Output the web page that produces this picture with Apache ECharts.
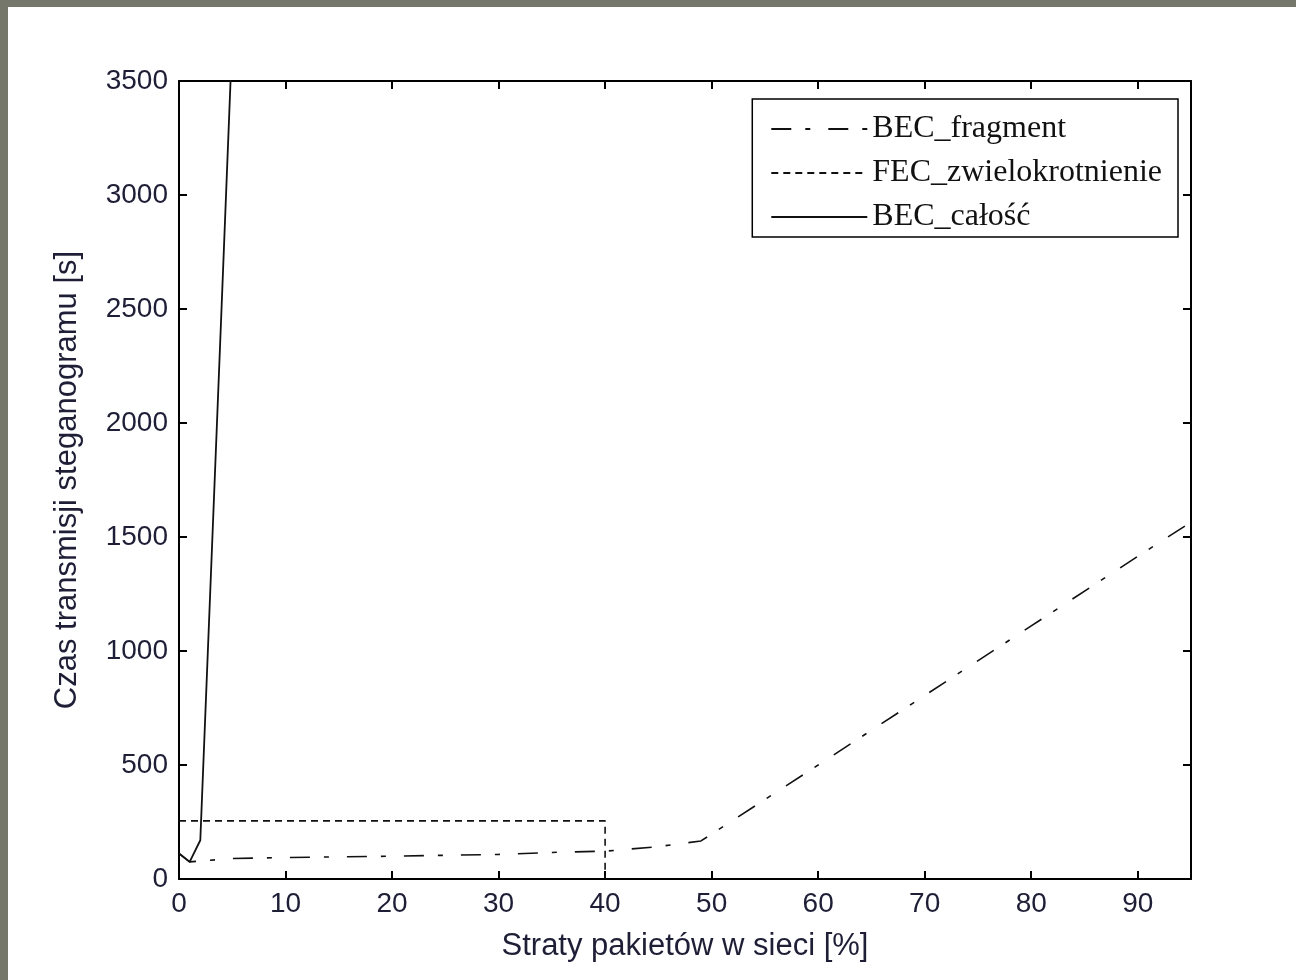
<!DOCTYPE html>
<html>
<head>
<meta charset="utf-8">
<script src="https://cdn.jsdelivr.net/npm/echarts@6/dist/echarts.min.js"></script>
<style>
  html, body { margin: 0; padding: 0; width: 1296px; height: 980px; overflow: hidden; background: #75776a; }
  #chart { position: absolute; left: 8px; top: 7px; width: 1288px; height: 973px; background: #ffffff; }
</style>
</head>
<body>
<div id="chart"></div>
<script>
// Data
const seriesNames = ['BEC_fragment', 'FEC_zwielokrotnienie', 'BEC_całość'];
const fragmentLoss = [0, 1, 5, 10, 20, 30, 36, 40, 45, 49, 60, 70, 80, 90, 95];
const fragmentTime = [112, 75, 90, 94, 100, 108, 118, 122, 142, 167, 500, 805, 1110, 1415, 1565];
const fecLoss = [0, 40, 40];
const fecTime = [255, 255, 0];
const calLoss = [0, 1, 2, 3, 4, 5];
const calTime = [112, 75, 170, 1340, 2510, 3690];
const xTitle = 'Straty pakietów w sieci [%]';
const yTitle = 'Czas transmisji steganogramu [s]';

const pairs = (xs, ys) => xs.map((x, i) => [x, ys[i]]);

const lineColor = '#111111';
const labelColor = '#1e1e36';
const sansFont = '"Liberation Sans", Arial, sans-serif';
const serifFont = '"Liberation Serif", "Times New Roman", serif';

const axisLineStyle = { color: '#000000', width: 2 };
const plain = v => String(v);

const chart = echarts.init(document.getElementById('chart'), null, { renderer: 'canvas' });
chart.setOption({
  animation: false,
  backgroundColor: '#ffffff',
  grid: { left: 171, top: 74, right: 105, bottom: 101, containLabel: false },
  legend: {
    orient: 'vertical',
    right: 118,
    top: 92,
    padding: [14, 16, 4, 18],
    itemGap: 12,
    itemWidth: 96,
    itemHeight: 32,
    borderColor: '#000000',
    borderWidth: 1.5,
    backgroundColor: '#ffffff',
    itemStyle: { opacity: 0, borderWidth: 0 },
    textStyle: { fontFamily: serifFont, fontSize: 32, color: '#111111', lineHeight: 32 },
    data: seriesNames
  },
  xAxis: [{
    type: 'value', min: 0, max: 95, interval: 10,
    position: 'bottom',
    name: xTitle, nameLocation: 'middle', nameGap: 52,
    nameTextStyle: { fontFamily: sansFont, fontSize: 31, color: labelColor },
    axisLine: { show: true, lineStyle: axisLineStyle },
    axisTick: { show: true, inside: true, length: 8, lineStyle: axisLineStyle },
    axisLabel: { show: true, showMaxLabel: false, margin: 11, fontFamily: sansFont, fontSize: 28, color: labelColor, formatter: plain },
    splitLine: { show: false }
  }, {
    type: 'value', min: 0, max: 95, interval: 10,
    position: 'top',
    axisLine: { show: true, onZero: false, lineStyle: axisLineStyle },
    axisTick: { show: true, inside: true, length: 8, lineStyle: axisLineStyle },
    axisLabel: { show: false },
    splitLine: { show: false }
  }],
  yAxis: [{
    type: 'value', min: 0, max: 3500, interval: 500,
    position: 'left',
    name: yTitle, nameLocation: 'middle', nameGap: 96, nameRotate: 90,
    nameTextStyle: { fontFamily: sansFont, fontSize: 31, color: labelColor },
    axisLine: { show: true, lineStyle: axisLineStyle },
    axisTick: { show: true, inside: true, length: 8, lineStyle: axisLineStyle },
    axisLabel: { show: true, margin: 11, fontFamily: sansFont, fontSize: 28, color: labelColor, formatter: plain },
    splitLine: { show: false }
  }, {
    type: 'value', min: 0, max: 3500, interval: 500,
    position: 'right',
    axisLine: { show: true, onZero: false, lineStyle: axisLineStyle },
    axisTick: { show: true, inside: true, length: 8, lineStyle: axisLineStyle },
    axisLabel: { show: false },
    splitLine: { show: false }
  }],
  series: [{
    name: seriesNames[0], type: 'line', symbol: 'none', clip: true,
    data: pairs(fragmentLoss, fragmentTime),
    lineStyle: { color: lineColor, width: 1.6, type: [20, 14, 5, 18] },
    itemStyle: { color: lineColor }
  }, {
    name: seriesNames[1], type: 'line', symbol: 'none', clip: true,
    data: pairs(fecLoss, fecTime),
    lineStyle: { color: lineColor, width: 1.6, type: [7, 5] },
    itemStyle: { color: lineColor }
  }, {
    name: seriesNames[2], type: 'line', symbol: 'none', clip: true,
    data: pairs(calLoss, calTime),
    lineStyle: { color: lineColor, width: 1.8, type: 'solid' },
    itemStyle: { color: lineColor }
  }]
});
</script>
</body>
</html>
